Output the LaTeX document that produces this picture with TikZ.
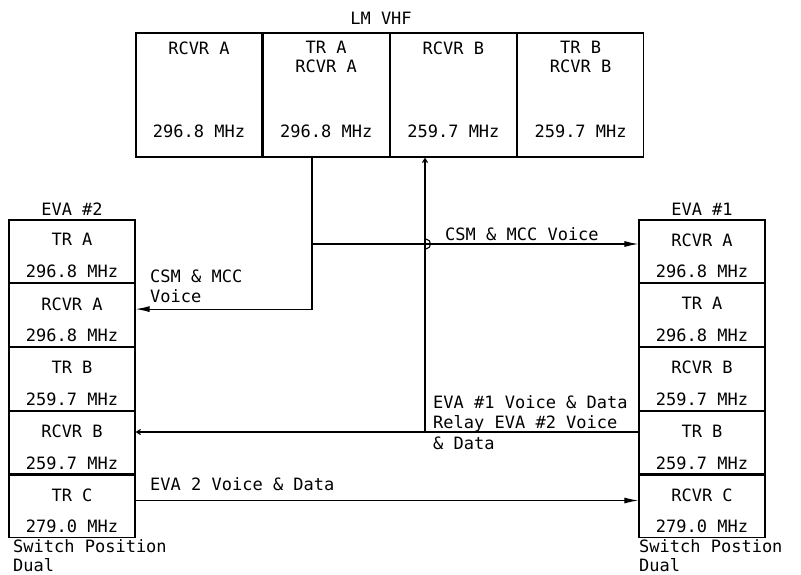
\documentclass[tikz,border=0pt]{standalone}
\usepackage{fontspec}
\newfontfamily\vhffont{DejaVu Sans Mono}
\usetikzlibrary{arrows.meta,positioning}

\begin{document}
\begin{tikzpicture}[x=1pt, y=-1pt,
  cell/.style={
    rectangle, draw, line width=1.2pt, inner sep=0pt,
    minimum width=126pt, minimum height=124pt
  },
  rowcell/.style={
    rectangle, draw, line width=1.2pt, inner sep=0pt,
    minimum width=126pt, minimum height=62.6pt
  },
  tag/.style={inner sep=0pt, align=center, font=\vhffont\fontsize{17}{19}\selectfont},
  note/.style={inner sep=0pt, align=left, font=\vhffont\fontsize{17}{20.5}\selectfont},
  wire/.style={line width=1.1pt},
  msg/.style={-{Latex[length=14pt,width=6pt]}, line width=1.1pt},
  faint/.style={-{Straight Barb[length=4pt,width=5pt]}, line width=1.1pt}
]
\useasboundingbox (0,0) rectangle (801,575);

% ---- LM VHF (top) ----
\node[tag] (lmtitle) at (381,18) {LM VHF};
\node[cell] (lm1) at (199,95) {};
\node[cell, right=0pt of lm1] (lm2) {};
\node[cell, right=0pt of lm2] (lm3) {};
\node[cell, right=0pt of lm3] (lm4) {};

\node[tag, below=8.8pt of lm1.north] (lm1-tag) {RCVR A};
\node[tag, below=8.8pt of lm2.north] (lm2-tag) {TR A\\RCVR A};
\node[tag, below=8.8pt of lm3.north] (lm3-tag) {RCVR B};
\node[tag, below=8.8pt of lm4.north] (lm4-tag) {TR B\\RCVR B};
\node[tag, above=19.8pt of lm1.south] (lm1-mhz) {296.8 MHz};
\node[tag, above=19.8pt of lm2.south] (lm2-mhz) {296.8 MHz};
\node[tag, above=19.8pt of lm3.south] (lm3-mhz) {259.7 MHz};
\node[tag, above=19.8pt of lm4.south] (lm4-mhz) {259.7 MHz};

% ---- EVA #2 (left) ----
\node[rowcell] (e2a) at (72,251.3) {};
\node[rowcell, below=0pt of e2a] (e2b) {};
\node[rowcell, below=0pt of e2b] (e2c) {};
\node[rowcell, below=0pt of e2c] (e2d) {};
\node[rowcell, below=0pt of e2d] (e2e) {};
\node[tag, above=4pt of e2a.north] (e2title) {EVA \#2};
\foreach \r/\n/\f in {a/TR A/296.8 MHz, b/RCVR A/296.8 MHz, c/TR B/259.7 MHz,
                      d/RCVR B/259.7 MHz, e/TR C/279.0 MHz} {
  \node[tag, below=14pt of e2\r.north] (e2\r-tag) {\n};
  \node[tag, above=5pt of e2\r.south] (e2\r-mhz) {\f};
}
\node[note, anchor=north west, font=\vhffont\fontsize{17}{19}\selectfont] (e2sw) at (13,539) {Switch Position\\Dual};

% ---- EVA #1 (right) ----
\node[rowcell] (e1a) at (702,251.3) {};
\node[rowcell, below=0pt of e1a] (e1b) {};
\node[rowcell, below=0pt of e1b] (e1c) {};
\node[rowcell, below=0pt of e1c] (e1d) {};
\node[rowcell, below=0pt of e1d] (e1e) {};
\node[tag, above=4pt of e1a.north] (e1title) {EVA \#1};
\foreach \r/\n/\f in {a/RCVR A/296.8 MHz, b/TR A/296.8 MHz, c/RCVR B/259.7 MHz,
                      d/TR B/259.7 MHz, e/RCVR C/279.0 MHz} {
  \node[tag, below=14pt of e1\r.north] (e1\r-tag) {\n};
  \node[tag, above=5pt of e1\r.south] (e1\r-mhz) {\f};
}
\node[note, anchor=north west, font=\vhffont\fontsize{17}{19}\selectfont] (e1sw) at (639,539) {Switch Postion\\Dual};

% ---- Links ----
\coordinate (jA) at (312,244);
\coordinate (jB) at (425,432);

% LM TR A -> both EVAs
\draw[wire] (lm2.south -| jA) -- (jA);
\draw[msg] (jA) |- ([yshift=6pt]e2b.east);
\draw[msg] (jA) -- (jA -| e1a.west);
\draw[wire] (426,239) .. controls (432,240) and (432,248) .. (426,249);
\node[note, anchor=south west] (csm1) at (445,241) {CSM \& MCC Voice};
\node[note, anchor=south west] (csm2) at (150,303) {CSM \& MCC\\Voice};

% EVA 1 -> EVA 2 relay and LM
\draw[faint] (e1d.west |- jB) -- (e2d.east |- jB);
\draw[faint] (jB) -- (jB |- lm3.south);
\node[note, anchor=north west] (relay) at (433,395) {EVA \#1 Voice \& Data\\Relay EVA \#2 Voice\\\& Data};

% EVA 2 TR C -> EVA 1 RCVR C
\draw[msg] ([yshift=6pt]e2e.east) -- ([yshift=6pt]e1e.west);
\node[note, anchor=south west] (eva2) at (150,491) {EVA 2 Voice \& Data};

\end{tikzpicture}
\end{document}
